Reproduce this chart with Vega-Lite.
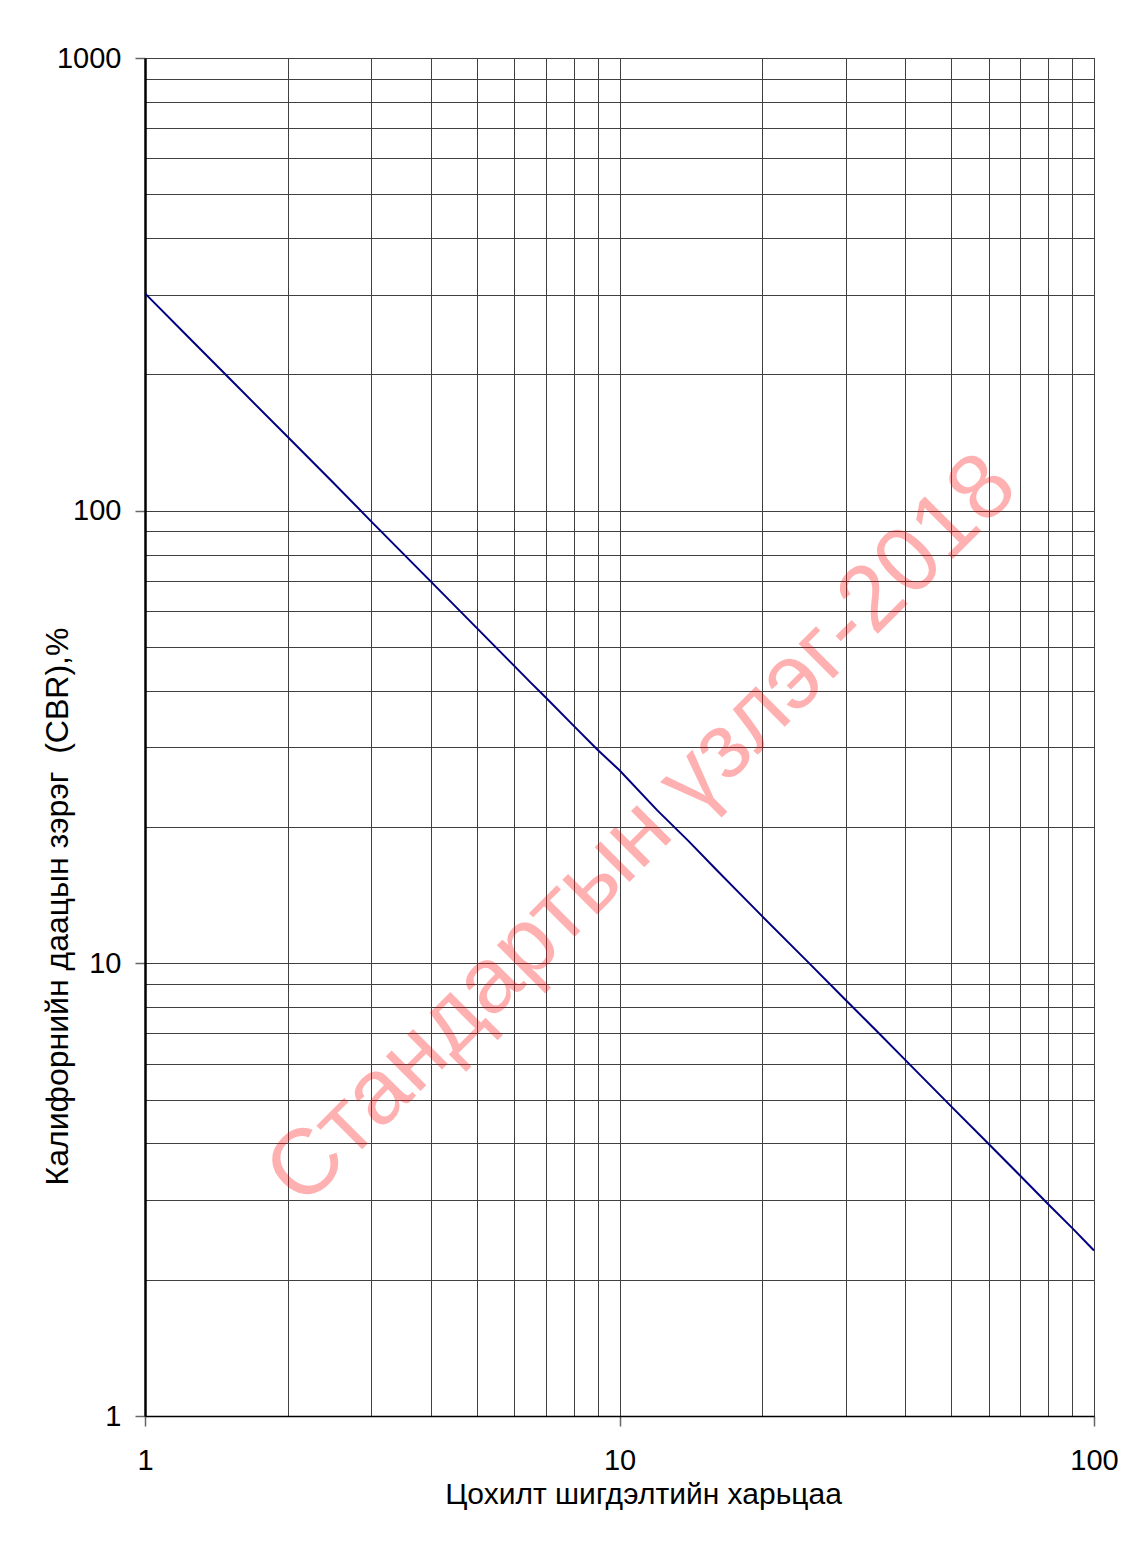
{
  "$schema": "https://vega.github.io/schema/vega-lite/v6.json",
  "width": 949,
  "height": 1358,
  "autosize": {"type": "none"},
  "padding": {"left": 145, "top": 58, "right": 40, "bottom": 125},
  "background": "white",
  "config": {
    "view": {"stroke": "#000000", "strokeWidth": 1},
    "font": "Liberation Sans"
  },
  "datasets": {
    "curve": [
      {"ratio": 1, "cbr": 302},
      {"ratio": 1.25, "cbr": 238.6},
      {"ratio": 1.5, "cbr": 196.8},
      {"ratio": 2, "cbr": 145.5},
      {"ratio": 2.5, "cbr": 115},
      {"ratio": 3, "cbr": 94.6},
      {"ratio": 4, "cbr": 69.8},
      {"ratio": 5, "cbr": 55.1},
      {"ratio": 6, "cbr": 45.4},
      {"ratio": 6.5, "cbr": 41.7},
      {"ratio": 7, "cbr": 38.6},
      {"ratio": 8, "cbr": 33.5},
      {"ratio": 9, "cbr": 29.6},
      {"ratio": 10, "cbr": 26.7},
      {"ratio": 12, "cbr": 21.8},
      {"ratio": 14, "cbr": 18.6},
      {"ratio": 16, "cbr": 16.1},
      {"ratio": 18, "cbr": 14.2},
      {"ratio": 20, "cbr": 12.7},
      {"ratio": 25, "cbr": 10.05},
      {"ratio": 30, "cbr": 8.29},
      {"ratio": 35, "cbr": 7.05},
      {"ratio": 40, "cbr": 6.12},
      {"ratio": 50, "cbr": 4.83},
      {"ratio": 60, "cbr": 3.99},
      {"ratio": 70, "cbr": 3.39},
      {"ratio": 80, "cbr": 2.94},
      {"ratio": 90, "cbr": 2.6},
      {"ratio": 100, "cbr": 2.32}
    ],
    "mark": [
      {"ratio": 11.15, "cbr": 19.7, "label": "Стандартын үзлэг-2018"}
    ]
  },
  "layer": [
    {
      "data": {"name": "curve"},
      "mark": {"type": "line", "color": "#000080", "strokeWidth": 2},
      "encoding": {
        "x": {
          "field": "ratio",
          "type": "quantitative",
          "scale": {"type": "log", "domain": [1, 100], "nice": false},
          "axis": {
            "values": [1, 2, 3, 4, 5, 6, 7, 8, 9, 10, 20, 30, 40, 50, 60, 70, 80, 90, 100],
            "grid": true,
            "gridColor": "#404040",
            "gridWidth": 1,
            "domainColor": "#000000",
            "domainWidth": 1.5,
            "tickColor": "#666666",
            "tickSize": 10,
            "tickWidth": 1.5,
            "tickOpacity": {"condition": {"test": "datum.value == 1 || datum.value == 10 || datum.value == 100", "value": 1}, "value": 0},
            "format": "d",
            "labelExpr": "datum.value == 1 || datum.value == 10 || datum.value == 100 ? datum.label : ''",
            "labelFlush": false,
            "labelOverlap": false,
            "labelFont": "Liberation Sans",
            "labelFontSize": 29,
            "labelColor": "#000000",
            "labelPadding": 20,
            "title": "Цохилт шигдэлтийн харьцаа",
            "titleFont": "Liberation Sans",
            "titleFontSize": 30,
            "titleFontWeight": "normal",
            "titleColor": "#000000",
            "titleX": 498,
            "titleY": 78,
            "titleAlign": "center",
            "titleBaseline": "middle"
          }
        },
        "y": {
          "field": "cbr",
          "type": "quantitative",
          "scale": {"type": "log", "domain": [1, 1000], "nice": false},
          "axis": {
            "values": [1, 2, 3, 4, 5, 6, 7, 8, 9, 10, 20, 30, 40, 50, 60, 70, 80, 90, 100, 200, 300, 400, 500, 600, 700, 800, 900, 1000],
            "grid": true,
            "gridColor": "#404040",
            "gridWidth": 1,
            "domainColor": "#000000",
            "domainWidth": 2.5,
            "tickColor": "#666666",
            "tickSize": 10,
            "tickWidth": 1.5,
            "tickOpacity": {"condition": {"test": "datum.value == 1 || datum.value == 10 || datum.value == 100 || datum.value == 1000", "value": 1}, "value": 0},
            "format": "d",
            "labelExpr": "datum.value == 1 || datum.value == 10 || datum.value == 100 || datum.value == 1000 ? datum.label : ''",
            "labelFlush": false,
            "labelOverlap": false,
            "labelFont": "Liberation Sans",
            "labelFontSize": 29,
            "labelColor": "#000000",
            "labelPadding": 14,
            "title": "Калифорнийн даацын зэрэг \u00a0(CBR),%",
            "titleFont": "Liberation Sans",
            "titleFontSize": 32,
            "titleFontWeight": "normal",
            "titleColor": "#000000",
            "titleX": -88,
            "titleY": 848,
            "titleAngle": 270,
            "titleAlign": "center",
            "titleBaseline": "middle"
          }
        }
      }
    },
    {
      "data": {"name": "mark"},
      "mark": {"type": "text", "angle": 315, "fontSize": 93, "font": "Liberation Sans", "fill": "#ff0000", "opacity": 0.3, "align": "center", "baseline": "middle"},
      "encoding": {
        "x": {"field": "ratio", "type": "quantitative"},
        "y": {"field": "cbr", "type": "quantitative"},
        "text": {"field": "label"}
      }
    }
  ]
}
